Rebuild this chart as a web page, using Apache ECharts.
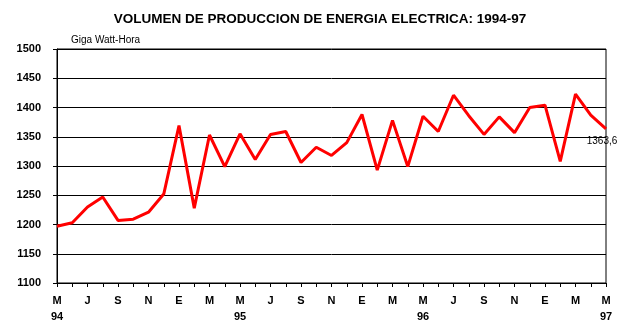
<!DOCTYPE html>
<html>
<head>
<meta charset="utf-8">
<script src="https://cdn.jsdelivr.net/npm/echarts@6/dist/echarts.min.js"></script>
<style>
  html, body { margin: 0; padding: 0; background: #fff; }
  #chart { width: 636px; height: 331px; }
</style>
</head>
<body>
<div id="chart"></div>
<script>
// Monthly electricity production, May 1994 - May 1997 (GWh)
var monthLetters = ['M','J','J','A','S','O','N','D','E','F','M','A',
                    'M','J','J','A','S','O','N','D','E','F','M','A',
                    'M','J','J','A','S','O','N','D','E','F','M','A',
                    'M'];
var yearLabels = { 0: '94', 12: '95', 24: '96', 36: '97' };
var production = [1197, 1203, 1230, 1247, 1207, 1209, 1221, 1252, 1369, 1228, 1353, 1299,
                  1355, 1311, 1354, 1359, 1306, 1332, 1318, 1340, 1388, 1293, 1378, 1299,
                  1385, 1359, 1421, 1386, 1354, 1384, 1357, 1400, 1404, 1308, 1423, 1387,
                  1363.6];
var yTicks = { min: 1100, max: 1500, step: 50 };

var categories = monthLetters.map(function (m, i) { return String(i); });

var seriesData = production.map(function (v, i) {
  if (i === production.length - 1) {
    return {
      value: v,
      label: {
        show: true,
        position: 'bottom',
        distance: 7,
        offset: [-4, 0],
        color: '#000',
        fontFamily: 'Arial',
        fontSize: 10,
        formatter: function (p) { return p.value.toFixed(1).replace('.', ','); }
      }
    };
  }
  return v;
});

var chart = echarts.init(document.getElementById('chart'), null, { renderer: 'canvas' });
chart.setOption({
  backgroundColor: '#fff',
  animation: false,
  title: {
    text: 'VOLUMEN DE PRODUCCION DE ENERGIA ELECTRICA: 1994-97',
    left: 315,
    textAlign: 'center',
    top: 7,
    textStyle: { fontFamily: 'Arial', fontWeight: 'bold', fontSize: 13.5, color: '#000' }
  },
  graphic: [{
    type: 'text',
    left: 71,
    top: 35,
    style: { text: 'Giga Watt-Hora', fontFamily: 'Arial', fontSize: 10, fill: '#000' }
  }],
  grid: {
    left: 57, right: 30, top: 49, bottom: 48,
    show: true, borderColor: '#000', borderWidth: 1
  },
  xAxis: {
    type: 'category',
    data: categories,
    boundaryGap: false,
    axisLine: { lineStyle: { color: '#000', width: 1 } },
    axisTick: { show: true, interval: 0, length: 4, lineStyle: { color: '#000' } },
    axisLabel: {
      interval: 1,
      margin: 10,
      color: '#000',
      fontFamily: 'Arial',
      fontWeight: 'bold',
      fontSize: 11,
      lineHeight: 16,
      formatter: function (val, idx) {
        var y = yearLabels[idx];
        return y ? monthLetters[idx] + '\n' + y : monthLetters[idx] + '\n ';
      }
    },
    splitLine: { show: false }
  },
  yAxis: {
    type: 'value',
    min: yTicks.min,
    max: yTicks.max,
    interval: yTicks.step,
    axisLine: { show: true, lineStyle: { color: '#000', width: 1 } },
    axisTick: { show: true, length: 4, lineStyle: { color: '#000' } },
    axisLabel: {
      margin: 16,
      color: '#000',
      fontFamily: 'Arial',
      fontWeight: 'bold',
      fontSize: 11,
      formatter: function (v) { return String(v); }
    },
    splitLine: { show: true, lineStyle: { color: '#000', width: 1 } }
  },
  series: [{
    type: 'line',
    data: seriesData,
    showSymbol: true,
    symbol: 'circle',
    symbolSize: 0,
    lineStyle: { color: '#ff0000', width: 3 },
    itemStyle: { color: '#ff0000' },
    z: 3
  }]
});
</script>
</body>
</html>
